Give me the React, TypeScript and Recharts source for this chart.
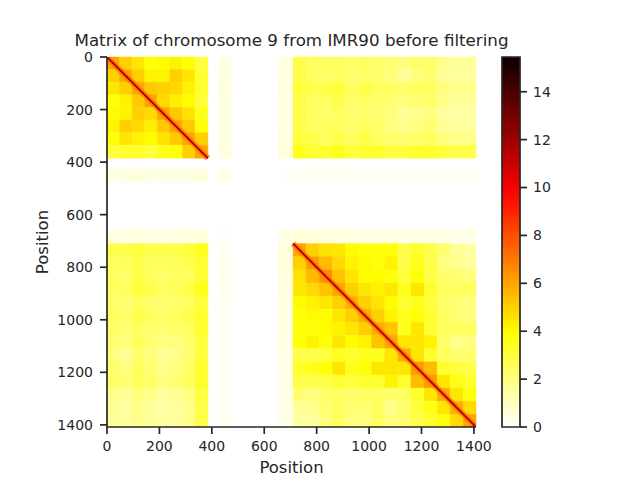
import React from "react";
import {
  ScatterChart,
  Scatter,
  XAxis,
  YAxis,
  ReferenceArea,
  ReferenceLine,
  BarChart,
  Bar,
} from "recharts";

// coarse bins of the contact matrix (matrix positions)
const binStarts = [0, 48, 96, 144, 192, 240, 288, 336, 425, 655, 710, 760, 810, 860, 910, 960, 1010, 1060, 1110, 1160, 1210, 1260, 1310, 1360];
const binEnds = [48, 96, 144, 192, 240, 288, 336, 385, 475, 705, 760, 810, 860, 910, 960, 1010, 1060, 1110, 1160, 1210, 1260, 1310, 1360, 1408];

// lower triangle of the (symmetric) matrix, row i holds bins 0..i
const contactRows = [
  [6.0],
  [5.0, 6.0],
  [4.5, 5.0, 6.0],
  [3.8, 4.2, 5.2, 6.0],
  [4.0, 4.2, 5.0, 4.8, 6.0],
  [4.2, 5.0, 4.8, 4.3, 5.2, 6.0],
  [3.8, 4.5, 4.2, 4.0, 4.6, 5.2, 6.0],
  [3.0, 3.2, 3.2, 3.0, 3.5, 3.8, 5.0, 6.0],
  [0.45, 0.45, 0.5, 0.45, 0.45, 0.45, 0.45, 0.5, 0.3],
  [0.45, 0.45, 0.5, 0.45, 0.45, 0.45, 0.5, 0.55, 0.1, 0.35],
  [2.8, 2.8, 3.0, 2.8, 2.8, 2.8, 3.0, 3.5, 0.25, 0.6, 6.0],
  [2.5, 2.5, 2.8, 2.5, 2.5, 2.5, 2.8, 3.2, 0.25, 0.55, 5.0, 6.2],
  [2.5, 2.3, 2.8, 2.5, 2.3, 2.5, 2.5, 3.2, 0.25, 0.5, 4.6, 5.5, 6.5],
  [2.5, 2.5, 3.0, 2.8, 2.5, 2.5, 2.8, 3.5, 0.25, 0.5, 4.5, 4.8, 5.3, 6.0],
  [2.3, 2.2, 2.5, 2.3, 2.2, 2.3, 2.5, 3.0, 0.2, 0.45, 4.0, 4.2, 4.5, 5.0, 5.8],
  [2.5, 2.3, 2.8, 2.5, 2.3, 2.5, 2.8, 3.2, 0.2, 0.45, 3.8, 4.0, 4.0, 4.5, 5.0, 5.8],
  [2.3, 2.2, 2.5, 2.3, 2.2, 2.3, 2.5, 3.2, 0.2, 0.45, 3.8, 3.8, 4.0, 4.2, 4.5, 5.0, 5.8],
  [2.2, 2.0, 2.5, 2.2, 2.0, 2.0, 2.3, 3.0, 0.2, 0.45, 3.8, 4.2, 3.8, 4.5, 4.0, 4.2, 5.3, 6.0],
  [2.0, 1.6, 2.3, 2.0, 1.6, 1.8, 2.2, 3.0, 0.2, 0.4, 2.8, 2.8, 3.0, 3.5, 3.2, 3.5, 3.5, 4.5, 5.8],
  [2.3, 2.0, 2.5, 2.2, 1.8, 2.0, 2.3, 3.2, 0.2, 0.4, 3.2, 3.5, 3.8, 4.5, 3.5, 3.8, 4.5, 4.5, 4.5, 6.2],
  [2.3, 2.2, 2.5, 2.3, 2.0, 2.2, 2.5, 3.2, 0.2, 0.4, 2.8, 2.8, 2.8, 3.2, 3.0, 3.2, 3.2, 4.2, 3.2, 5.5, 6.2],
  [1.8, 1.6, 2.0, 1.8, 1.5, 1.6, 2.0, 3.0, 0.2, 0.35, 2.2, 2.0, 2.3, 2.5, 2.3, 2.5, 2.5, 2.3, 2.5, 3.2, 4.5, 5.8],
  [1.6, 1.5, 1.8, 1.6, 1.4, 1.5, 1.8, 2.8, 0.2, 0.35, 1.6, 1.8, 2.2, 2.5, 2.2, 2.2, 2.5, 1.8, 2.2, 3.0, 3.6, 4.5, 5.8],
  [1.6, 1.5, 1.8, 1.6, 1.4, 1.5, 1.8, 2.8, 0.2, 0.35, 1.4, 1.5, 2.0, 2.5, 2.0, 2.0, 2.5, 2.0, 2.2, 2.8, 3.2, 3.8, 4.8, 6.0],
];

// stretches of the main diagonal that carry data
const diagonalRuns = [
  [0, 385],
  [710, 1408],
];
const diagonalHalo = 7.0;
const diagonalCore = 11.5;

// short, weak diagonal pieces inside the filtered-out gap
const faintDiagonalRuns = [
  [425, 470],
  [660, 705],
];
const faintDiagonalValue = 1.2;

const matrixSize = 1408;
const positionTicks = [0, 200, 400, 600, 800, 1000, 1200, 1400];
const colorMax = 15.45;
const colorTicks = [0, 2, 4, 6, 8, 10, 12, 14];
const colorbarData = [{ name: "scale", value: colorMax }];

const ink = "#262626";

const clamp = (t: number) => Math.min(1, Math.max(0, t));

// matplotlib "hot_r"
function hotR(v: number) {
  const s = 1 - clamp(v / colorMax);
  const r = clamp(0.0416 + ((1 - 0.0416) * s) / 0.365079);
  const g = clamp((s - 0.365079) / (0.746032 - 0.365079));
  const b = clamp((s - 0.746032) / (1 - 0.746032));
  const h = (c: number) => Math.round(c * 255).toString(16).padStart(2, "0");
  return `#${h(r)}${h(g)}${h(b)}`;
}

const cells: { x1: number; x2: number; y1: number; y2: number; v: number }[] = [];
contactRows.forEach((row, i) =>
  row.forEach((v, j) => {
    cells.push({ x1: binStarts[j], x2: binEnds[j], y1: binStarts[i], y2: binEnds[i], v });
    if (i !== j) {
      cells.push({ x1: binStarts[i], x2: binEnds[i], y1: binStarts[j], y2: binEnds[j], v });
    }
  })
);

// bin centres, only so the axes have data to scale against
const cellCentres = cells.map((c) => ({ x: (c.x1 + c.x2) / 2, y: (c.y1 + c.y2) / 2 }));

const gradientStops = Array.from({ length: 21 }, (_, k) => k / 20);

const tickStyle = { fontSize: 14, fill: ink };
const lineStyle = { stroke: ink, strokeWidth: 1.7 };

export default function App() {
  return (
    <div
      style={{
        position: "absolute",
        left: 0,
        top: 0,
        width: 640,
        height: 480,
        background: "#fff",
        fontFamily: "DejaVu Sans",
        color: ink,
      }}
    >
      <div
        style={{
          position: "absolute",
          left: 0,
          width: 583,
          top: 34.3,
          fontSize: 16.7,
          lineHeight: 0.8,
          textAlign: "center",
          whiteSpace: "nowrap",
        }}
      >
        Matrix of chromosome 9 from IMR90 before filtering
      </div>

      <div style={{ position: "absolute", left: 0, top: 0 }}>
        <ScatterChart
          width={640}
          height={480}
          margin={{ top: 57, right: 164, bottom: 23, left: 0 }}
        >
          <XAxis
            type="number"
            dataKey="x"
            domain={[0, matrixSize]}
            allowDataOverflow
            ticks={positionTicks}
            interval={0}
            height={30}
            tickSize={7}
            tickMargin={7}
            tick={tickStyle}
            tickLine={lineStyle}
            axisLine={lineStyle}
            label={{ value: "Position", position: "bottom", offset: 4, fontSize: 16.5, fill: ink }}
          />
          <YAxis
            type="number"
            dataKey="y"
            domain={[0, matrixSize]}
            allowDataOverflow
            reversed
            ticks={positionTicks}
            interval={0}
            width={107}
            tickSize={7}
            tickMargin={7}
            tick={tickStyle}
            tickLine={lineStyle}
            axisLine={lineStyle}
            label={{
              value: "Position",
              angle: -90,
              position: "insideLeft",
              offset: 42,
              fontSize: 16.5,
              fill: ink,
              style: { textAnchor: "middle" },
            }}
          />
          {cells.map((c, k) => (
            <ReferenceArea
              key={k}
              x1={c.x1}
              x2={c.x2}
              y1={c.y1}
              y2={c.y2}
              fill={hotR(c.v)}
              fillOpacity={1}
              stroke={hotR(c.v)}
              strokeWidth={0.5}
            />
          ))}
          {faintDiagonalRuns.map(([a, b]) => (
            <ReferenceLine
              key={`faint-${a}`}
              segment={[{ x: a, y: a }, { x: b, y: b }]}
              stroke={hotR(faintDiagonalValue)}
              strokeWidth={1}
            />
          ))}
          {diagonalRuns.map(([a, b]) => (
            <ReferenceLine
              key={`halo-${a}`}
              segment={[{ x: a, y: a }, { x: b, y: b }]}
              stroke={hotR(diagonalHalo)}
              strokeWidth={6}
              strokeOpacity={0.75}
              ifOverflow="hidden"
            />
          ))}
          {diagonalRuns.map(([a, b]) => (
            <ReferenceLine
              key={`core-${a}`}
              segment={[{ x: a, y: a }, { x: b, y: b }]}
              stroke={hotR(diagonalCore)}
              strokeWidth={2}
              ifOverflow="hidden"
            />
          ))}
          <Scatter
            data={cellCentres}
            fill="none"
            stroke="none"
            legendType="none"
            isAnimationActive={false}
          />
        </ScatterChart>
      </div>

      <div style={{ position: "absolute", left: 0, top: 0 }}>
        <BarChart
          width={640}
          height={480}
          data={colorbarData}
          margin={{ top: 57, right: 80, bottom: 53, left: 502 }}
          barCategoryGap={0}
        >
          <defs>
            <linearGradient id="hotR" x1="0" y1="1" x2="0" y2="0">
              {gradientStops.map((t) => (
                <stop key={t} offset={t} stopColor={hotR(t * colorMax)} />
              ))}
            </linearGradient>
          </defs>
          <XAxis dataKey="name" hide />
          <YAxis
            orientation="right"
            type="number"
            domain={[0, colorMax]}
            ticks={colorTicks}
            interval={0}
            width={40}
            tickSize={7}
            tickMargin={6}
            tick={tickStyle}
            tickLine={lineStyle}
            axisLine={false}
          />
          <Bar
            dataKey="value"
            fill="url(#hotR)"
            stroke={ink}
            strokeWidth={1.7}
            isAnimationActive={false}
          />
        </BarChart>
      </div>
    </div>
  );
}
